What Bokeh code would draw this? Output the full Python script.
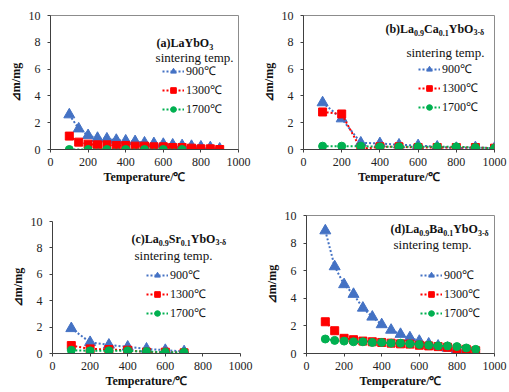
from bokeh.plotting import figure
from bokeh.layouts import column, row
from bokeh.models import Label, Legend, LegendItem, FixedTicker, Range1d, Spacer
from bokeh.embed import file_html
from bokeh.resources import INLINE

# ---------------- data ----------------
x_a = [100, 150, 200, 250, 300, 350, 400, 450, 500, 550, 600, 650, 700, 750, 800, 850, 900]
a_900 = [2.6, 1.55, 1.05, 0.85, 0.8, 0.7, 0.65, 0.6, 0.5, 0.45, 0.4, 0.35, 0.3, 0.25, 0.2, 0.15, 0.05]
a_1300 = [1.0, 0.55, 0.4, 0.35, 0.35, 0.3, 0.3, 0.25, 0.25, 0.2, 0.2, 0.15, 0.15, 0.1, 0.05, 0.05, 0.0]
x_a17 = [100, 200, 300, 400, 500, 600, 700]
a_1700 = [0.0, 0.0, 0.0, 0.0, 0.0, 0.0, 0.0]

x_b = [100, 200, 300, 400, 500, 600, 700, 800, 900, 1000]
b_900 = [3.5, 2.3, 0.5, 0.45, 0.35, 0.3, 0.2, 0.1, 0.15, 0.1]
b_1300 = [2.8, 2.65, 0.05, 0.2, 0.2, 0.15, 0.15, 0.15, 0.15, 0.1]
b_1700 = [0.25, 0.25, 0.25, 0.2, 0.2, 0.2, 0.2, 0.2, 0.15, 0.1]

x_c = [100, 200, 300, 400, 500, 600, 700]
c_900 = [1.9, 0.85, 0.65, 0.5, 0.35, 0.25, 0.15]
c_1300 = [0.6, 0.35, 0.3, 0.25, 0.1, 0.1, 0.05]
c_1700 = [0.25, 0.2, 0.2, 0.2, 0.15, 0.1, 0.1]

x_d = [100, 150, 200, 250, 300, 350, 400, 450, 500, 550, 600, 650, 700, 750, 800, 850, 900]
d_900 = [8.9, 6.3, 5.0, 4.3, 3.3, 2.65, 2.1, 1.7, 1.4, 1.15, 0.9, 0.7, 0.55, 0.4, 0.3, 0.15, 0.02]
d_1300 = [2.3, 1.65, 1.1, 1.0, 0.9, 0.85, 0.8, 0.75, 0.7, 0.68, 0.6, 0.55, 0.5, 0.45, 0.35, 0.3, 0.2]
d_1700 = [1.05, 0.95, 0.9, 0.85, 0.85, 0.8, 0.8, 0.75, 0.75, 0.7, 0.65, 0.6, 0.55, 0.55, 0.5, 0.4, 0.3]

series_names = ["900\u2103", "1300\u2103", "1700\u2103"]
x_ticks = [0, 200, 400, 600, 800, 1000]
y_ticks = [0, 2, 4, 6, 8, 10]
x_title = "Temperature/\u2103"
y_title = "\u22bfm/mg"
legend_head = "sintering temp."

titles = {
    "a": [("(a)LaYbO", False), ("3", True)],
    "b": [("(b)La", False), ("0.9", True), ("Ca", False), ("0.1", True), ("YbO", False), ("3-\u03b4", True)],
    "c": [("(c)La", False), ("0.9", True), ("Sr", False), ("0.1", True), ("YbO", False), ("3-\u03b4", True)],
    "d": [("(d)La", False), ("0.9", True), ("Ba", False), ("0.1", True), ("YbO", False), ("3-\u03b4", True)],
}

# ---------------- styling ----------------
SERIF = "Liberation Serif"
BLUE, RED, GREEN = "#4472C4", "#FF0000", "#00B050"
MAIN_FS, SUB_FS = 12, 8

# Times-bold-like advance widths (per 1000 em)
W = {"(": 333, ")": 333, "a": 500, "b": 556, "c": 444, "d": 556, "L": 667, "Y": 722,
     "O": 778, "C": 722, "S": 556, "B": 667, "r": 444, ".": 250, "-": 333, "\u03b4": 520}
for dgt in "0123456789":
    W[dgt] = 500


def text_width(s, fs):
    return sum(W.get(ch, 500) for ch in s) * fs / 1000.0


def make_fig(width, height, left, right, top, bottom, outline):
    p = figure(width=width, height=height, output_backend="svg", toolbar_location=None,
               x_range=Range1d(0, 1000), y_range=Range1d(0, 10),
               min_border_left=left, min_border_right=right,
               min_border_top=top, min_border_bottom=bottom)
    p.xgrid.visible = False
    p.ygrid.visible = False
    p.outline_line_color = "#8C8C8C" if outline else None
    p.background_fill_color = "white"
    p.border_fill_color = "white"
    for ax, ticks in ((p.xaxis[0], x_ticks), (p.yaxis[0], y_ticks)):
        ax.ticker = FixedTicker(ticks=ticks)
        ax.minor_tick_line_color = None
        ax.major_tick_in = 0
        ax.major_tick_out = 3
        ax.axis_line_color = "#404040"
        ax.major_tick_line_color = "#404040"
        ax.major_label_text_font = SERIF
        ax.major_label_text_font_size = "12px"
        ax.major_label_text_color = "#222222"
        ax.axis_label_text_font = SERIF
        ax.axis_label_text_font_style = "bold"
        ax.axis_label_text_font_size = "12px"
        ax.axis_label_text_color = "#111111"
    p.xaxis.axis_label = x_title
    p.yaxis.axis_label = y_title
    p.xaxis.major_label_standoff = 5
    p.xaxis.axis_label_standoff = 1
    p.yaxis.major_label_standoff = 7
    p.yaxis.axis_label_standoff = 3
    return p


def add_series(p, xs, ys, color, marker, size):
    ln = p.line(xs, ys, line_color=color, line_width=2, line_dash="2 2")
    sc = p.scatter(xs, ys, marker=marker, size=size, fill_color=color, line_color=color)
    return [ln, sc]


def add_title(p, segs, x, y):
    off = 0.0
    for txt, sub in segs:
        fs = SUB_FS if sub else MAIN_FS
        p.add_layout(Label(x=x, y=y, x_offset=off, y_offset=(-4 if sub else 0), text=txt,
                           text_font=SERIF, text_font_style="bold",
                           text_font_size=f"{fs}px", text_baseline="middle",
                           text_color="#111111"))
        off += text_width(txt, fs)


def add_head(p, x, y):
    p.add_layout(Label(x=x, y=y, text=legend_head, text_font=SERIF,
                       text_font_size="13px", text_baseline="middle", text_color="#111111"))


def add_legend(p, groups, loc):
    items = [LegendItem(label=n, renderers=g) for n, g in zip(series_names, groups)]
    lg = Legend(items=items, location=loc, padding=0, margin=0, spacing=2,
                glyph_width=22, glyph_height=14, label_height=14, label_standoff=2,
                label_text_font=SERIF, label_text_font_size="12px", label_text_color="#111111",
                border_line_color=None, background_fill_alpha=0)
    p.add_layout(lg)


def build(key, width, height, left, right, top, bottom, outline, data, title_xy, head_xy, leg_loc):
    p = make_fig(width, height, left, right, top, bottom, outline)
    (x9, y9), (x13, y13), (x17, y17) = data
    g1 = add_series(p, x9, y9, BLUE, "triangle", 11)
    g2 = add_series(p, x13, y13, RED, "square", 8)
    g3 = add_series(p, x17, y17, GREEN, "circle", 8)
    add_legend(p, [g1, g2, g3], leg_loc)
    add_title(p, titles[key], *title_xy)
    add_head(p, *head_xy)
    return p


pa = build("a", 254, 196, 50, 16, 15, 47, True,
           [(x_a, a_900), (x_a, a_1300), (x_a17, a_1700)],
           (564, 7.93), (559, 6.89), (112, 32))
pb = build("b", 255, 196, 49, 15, 15, 47, True,
           [(x_b, b_900), (x_b, b_1300), (x_b, b_1700)],
           (429, 9.02), (539, 7.22), (115, 34))
pc = build("c", 254, 190, 52, 14, 19, 39, False,
           [(x_c, c_900), (x_c, c_1300), (x_c, c_1700)],
           (420, 8.71), (436, 7.42), (94, 32))
pd_ = build("d", 255, 196, 52, 15, 19, 39, True,
            [(x_d, d_900), (x_d, d_1300), (x_d, d_1700)],
            (447, 8.99), (463, 7.90), (114, 32))

layout = column(row(pa, pb, spacing=0),
                row(column(Spacer(width=254, height=6), pc, spacing=0), pd_, spacing=0),
                spacing=0)

open("out.html", "w").write(file_html(layout, INLINE))
